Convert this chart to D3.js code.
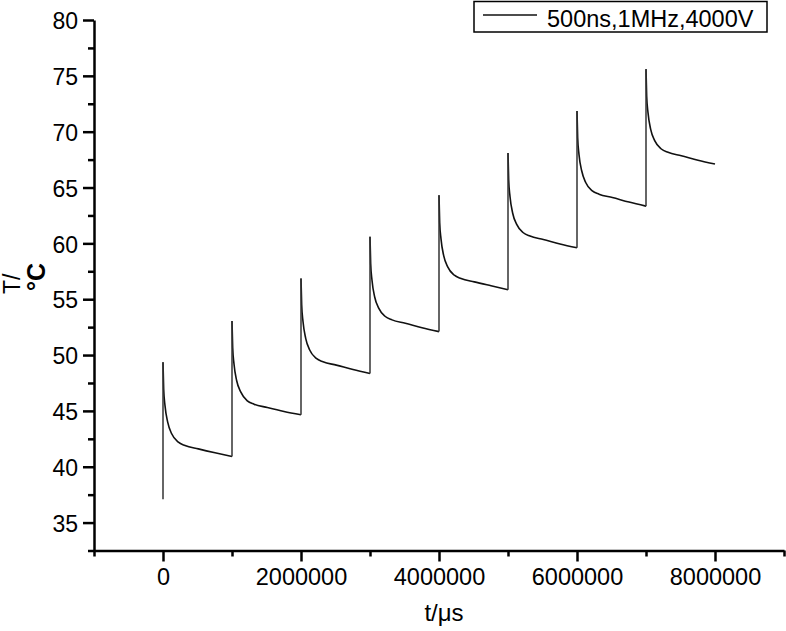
<!DOCTYPE html>
<html lang="en">
<head>
<meta charset="UTF-8">
<script src="https://d3js.org/d3.v7.min.js"></script>
<title>T vs t</title>
<style>
    body { margin: 0; background: #fff; }
    svg { display: block; font-family: "Liberation Sans", Arial, sans-serif; }
</style>
</head>
<body>
<svg width="786" height="631"></svg>
<script>
// time inside each 1e6 µs period (in µs), shared by all periods
const cycleStart = [0, 1000000, 2000000, 3000000, 4000000, 5000000, 6000000, 7000000];
const tInCycle = [0, 9700, 29000, 68000, 126000, 222000, 319000, 512000, 754000, 1000000];

// temperatures (peak first, value before next pulse last)
const cycle1 = [49.35, 46.96, 45.47, 43.99, 42.95, 42.20, 41.90, 41.60, 41.25, 40.92];
const cycle2 = [53.05, 50.70, 49.20, 47.70, 46.70, 45.90, 45.60, 45.30, 44.95, 44.65];
const cycle3 = [56.85, 54.50, 53.00, 51.50, 50.45, 49.70, 49.40, 49.10, 48.70, 48.35];
const cycle4 = [60.60, 58.20, 56.70, 55.20, 54.20, 53.45, 53.15, 52.85, 52.45, 52.10];
const cycle5 = [64.30, 61.90, 60.40, 58.90, 57.90, 57.15, 56.85, 56.55, 56.20, 55.85];
const cycle6 = [68.10, 65.70, 64.20, 62.70, 61.70, 60.95, 60.65, 60.35, 59.95, 59.60];
const cycle7 = [71.85, 69.45, 67.95, 66.50, 65.45, 64.70, 64.40, 64.10, 63.70, 63.33];
const cycle8 = [75.60, 73.20, 71.70, 70.20, 69.20, 68.45, 68.15, 67.85, 67.45, 67.10];
const startTemp = 37.1;

const cycles = [cycle1, cycle2, cycle3, cycle4, cycle5, cycle6, cycle7, cycle8];

const yMajor = [35, 40, 45, 50, 55, 60, 65, 70, 75, 80];
const yMinor = [32.5, 37.5, 42.5, 47.5, 52.5, 57.5, 62.5, 67.5, 72.5, 77.5];
const xMajor = [0, 2000000, 4000000, 6000000, 8000000];
const xMinor = [-1000000, 1000000, 3000000, 5000000, 7000000, 9000000];

const seriesName = "500ns,1MHz,4000V";

const svg = d3.select("svg");

const x = d3.scaleLinear().domain([-1000000, 9000000]).range([94, 784]);
const y = d3.scaleLinear().domain([32.5, 80]).range([550.5, 20]);

// axes
const gx = svg.append("g").attr("transform", "translate(0,550.5)");
gx.call(d3.axisBottom(x).tickValues(xMinor).tickSize(6).tickFormat("").tickSizeOuter(0));
gx.call(g => g.select(".domain").remove());
const gx2 = svg.append("g").attr("transform", "translate(0,550.5)");
gx2.call(d3.axisBottom(x).tickValues(xMajor).tickSize(11).tickPadding(7).tickSizeOuter(0)
    .tickFormat(d3.format("d")));

const gy = svg.append("g").attr("transform", "translate(94,0)");
gy.call(d3.axisLeft(y).tickValues(yMinor).tickSize(6).tickFormat("").tickSizeOuter(0));
gy.call(g => g.select(".domain").remove());
const gy2 = svg.append("g").attr("transform", "translate(94,0)");
gy2.call(d3.axisLeft(y).tickValues(yMajor).tickSize(11).tickPadding(5).tickSizeOuter(0));

svg.selectAll(".tick line").attr("stroke", "#000").attr("stroke-width", 2.5);
svg.selectAll(".domain").attr("stroke", "#000").attr("stroke-width", 2.5);
gx2.selectAll("text").attr("font-size", 23.5).attr("fill", "#000")
    .attr("font-family", "Liberation Sans, Arial, sans-serif");
gy2.selectAll("text").attr("font-size", 23).attr("fill", "#000").attr("dy", "0.38em")
    .attr("font-family", "Liberation Sans, Arial, sans-serif");

// curve
const curve = d3.line()
    .x(d => x(d[0]))
    .y(d => y(d[1]))
    .curve(d3.curveMonotoneX);
const straight = d3.line().x(d => x(d[0])).y(d => y(d[1]));

const plot = svg.append("g");
cycles.forEach((vals, i) => {
    const pts = vals.map((v, j) => [cycleStart[i] + tInCycle[j], v]);
    plot.append("path").attr("d", curve(pts))
        .attr("fill", "none").attr("stroke", "#111").attr("stroke-width", 1.6);
    // jump at the pulse
    const before = i === 0 ? startTemp : cycles[i - 1][cycles[i - 1].length - 1];
    plot.append("path").attr("d", straight([[cycleStart[i], before], [cycleStart[i], vals[0]]]))
        .attr("fill", "none").attr("stroke", "#333").attr("stroke-width", 1.5);
});

// axis titles
svg.append("text").attr("x", 444).attr("y", 621).attr("text-anchor", "middle")
    .attr("font-size", 24).text("t/\u03bcs");

const ylab = svg.append("g").attr("transform", "rotate(-90)");
ylab.append("text").attr("x", -294).attr("y", 20).attr("font-size", 23).text("T/");
ylab.append("text").attr("x", -291).attr("y", 45).attr("font-size", 25)
    .attr("font-weight", "bold").text("\u00b0C");

// legend
const leg = svg.append("g");
leg.append("rect").attr("x", 474).attr("y", 1.5).attr("width", 293).attr("height", 30.5)
    .attr("fill", "#fff").attr("stroke", "#000").attr("stroke-width", 1.5);
leg.append("line").attr("x1", 483).attr("x2", 537).attr("y1", 15).attr("y2", 15)
    .attr("stroke", "#111").attr("stroke-width", 1.5);
leg.append("text").attr("x", 547).attr("y", 26.5).attr("font-size", 23.5).text(seriesName);
</script>
</body>
</html>
